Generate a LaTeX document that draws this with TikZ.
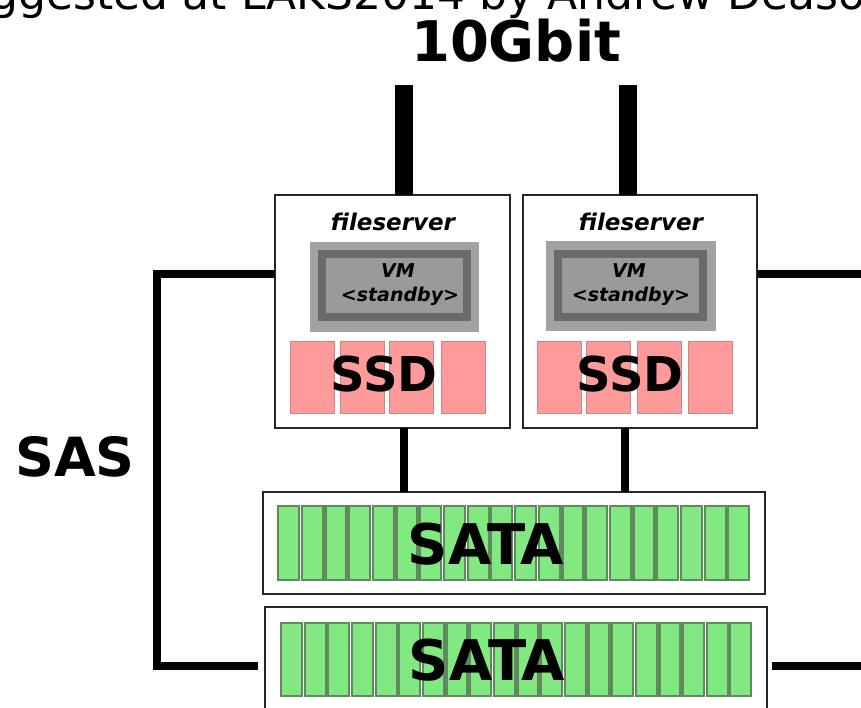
\documentclass[tikz,border=0pt]{standalone}
\usepackage{fontspec}
\setmainfont{DejaVu Sans}
\usetikzlibrary{calc}
\definecolor{ssdpink}{HTML}{FF9A9A}
\definecolor{ssdedge}{HTML}{C98585}
\definecolor{diskgreen}{HTML}{82E882}
\definecolor{diskedge}{HTML}{5E8A5E}
\definecolor{vmlight}{HTML}{A2A2A2}
\definecolor{vmdark}{HTML}{6A6A6A}
\definecolor{vminner}{HTML}{9A9A9A}
\newcommand{\fsz}[1]{\fontsize{#1}{#1}\selectfont}
\begin{document}
\begin{tikzpicture}[x=1pt,y=-1pt,
  every node/.style={inner sep=0pt,outer sep=0pt},
  serverbox/.style={draw=black!85,line width=2pt,fill=white,minimum width=235pt,minimum height=233pt},
  shelfbox/.style={draw=black!85,line width=2.5pt,fill=white,minimum width=502pt,minimum height=#1},
  vmouter/.style={fill=vmlight,minimum width=169pt,minimum height=90pt},
  vminnerbox/.style={fill=vminner,draw=vmdark,line width=8pt,minimum width=145pt,minimum height=63pt},
  ssdbox/.style={fill=ssdpink,draw=ssdedge,line width=1pt,minimum width=44pt,minimum height=72pt},
  diskbox/.style={fill=diskgreen,draw=diskedge,line width=2.2pt,minimum width=21pt,minimum height=#1},
  gbit/.style={line width=18pt},
  sasline/.style={line width=8.5pt},
  shelfline/.style={line width=8pt},
  bigtext/.style={font=\bfseries\fsz{#1}},
  srvtext/.style={font=\bfseries\itshape\fsz{23}},
  vmtext/.style={font=\bfseries\itshape\fsz{19}},
]
\useasboundingbox (0,0) rectangle (861,707);
\clip (0,0) rectangle (861,707);

% header line
\node[anchor=base west,font=\fsz{44}] (hdr) at (-60,9) {suggested at LAKS2014 by Andrew Deason};
\node[bigtext=56] (gbitlbl) at (516,41) {10Gbit};

% file servers
\node[serverbox] (fsA) at (392.5,311.5) {};
\node[serverbox,minimum width=234pt] (fsB) at (640,311.5) {};
\node[srvtext] (fsAlbl) at (393,222) {fileserver};
\node[srvtext] (fsBlbl) at (641,222) {fileserver};

% standby virtual machines
\node[vmouter] (vmAo) at (394.5,287) {};
\node[vminnerbox] (vmA) at (394.5,285.5) {};
\node[vmouter,minimum width=170pt] (vmBo) at (631,286) {};
\node[vminnerbox,minimum width=145pt] (vmB) at (630.5,285) {};
\foreach \v/\cx in {vmA/398,vmB/629}{
  \node[vmtext] (\v t1) at (\cx,271) {VM};
  \node[vmtext] (\v t2) at (\cx+2,296) {<standby>};
}

% SSDs
\foreach \i/\cx in {1/312,2/362,3/411.5,4/463.5}
  \node[ssdbox] (ssdA\i) at (\cx,377) {};
\foreach \i/\cx in {1/559.5,2/608.5,3/659,4/710.5}
  \node[ssdbox] (ssdB\i) at (\cx,377) {};
\node[bigtext=48] (ssdAlbl) at (384,374) {SSD};
\node[bigtext=48] (ssdBlbl) at (630,374) {SSD};

% SATA shelves
\node[shelfbox=102pt] (sataA) at (514,543) {};
\node[shelfbox=113pt] (sataB) at (516,663.5) {};
\foreach \i in {0,...,19}{
  \node[diskbox=74pt] (dA\i) at (288.5+\i*23.7,543) {};
  \node[diskbox=73pt] (dB\i) at (291.5+\i*23.65,659.5) {};
}
\node[bigtext=56] (sataAlbl) at (486,544) {SATA};
\node[bigtext=56] (sataBlbl) at (487,660) {SATA};

% 10Gbit uplinks
\coordinate (upA) at (404,85);
\coordinate (upB) at (628,85);
\draw[gbit] (upA) -- (upA |- fsA.north);
\draw[gbit] (upB) -- (upB |- fsB.north);

% server to shelf links
\coordinate (lnA) at (404,0);
\coordinate (lnB) at (625,0);
\draw[shelfline] (lnA |- fsA.south) -- (lnA |- sataA.north);
\draw[shelfline] (lnB |- fsB.south) -- (lnB |- sataA.north);

% SAS loop
\coordinate (sasL) at (157,274);
\coordinate (sasLB) at (157,666);
\coordinate (sasR) at (861,274);
\coordinate (sasRB) at (861,666);
\draw[sasline] (fsA.west |- sasL) -- (sasL) -- (sasLB) -- ($(sataB.west |- sasLB)+(-7,0)$);
\draw[sasline] (fsB.east |- sasR) -- (sasR);
\draw[sasline] ($(sataB.east |- sasRB)+(5,0)$) -- (sasRB);
\node[bigtext=54] (saslbl) at (75,457) {SAS};
\end{tikzpicture}
\end{document}
